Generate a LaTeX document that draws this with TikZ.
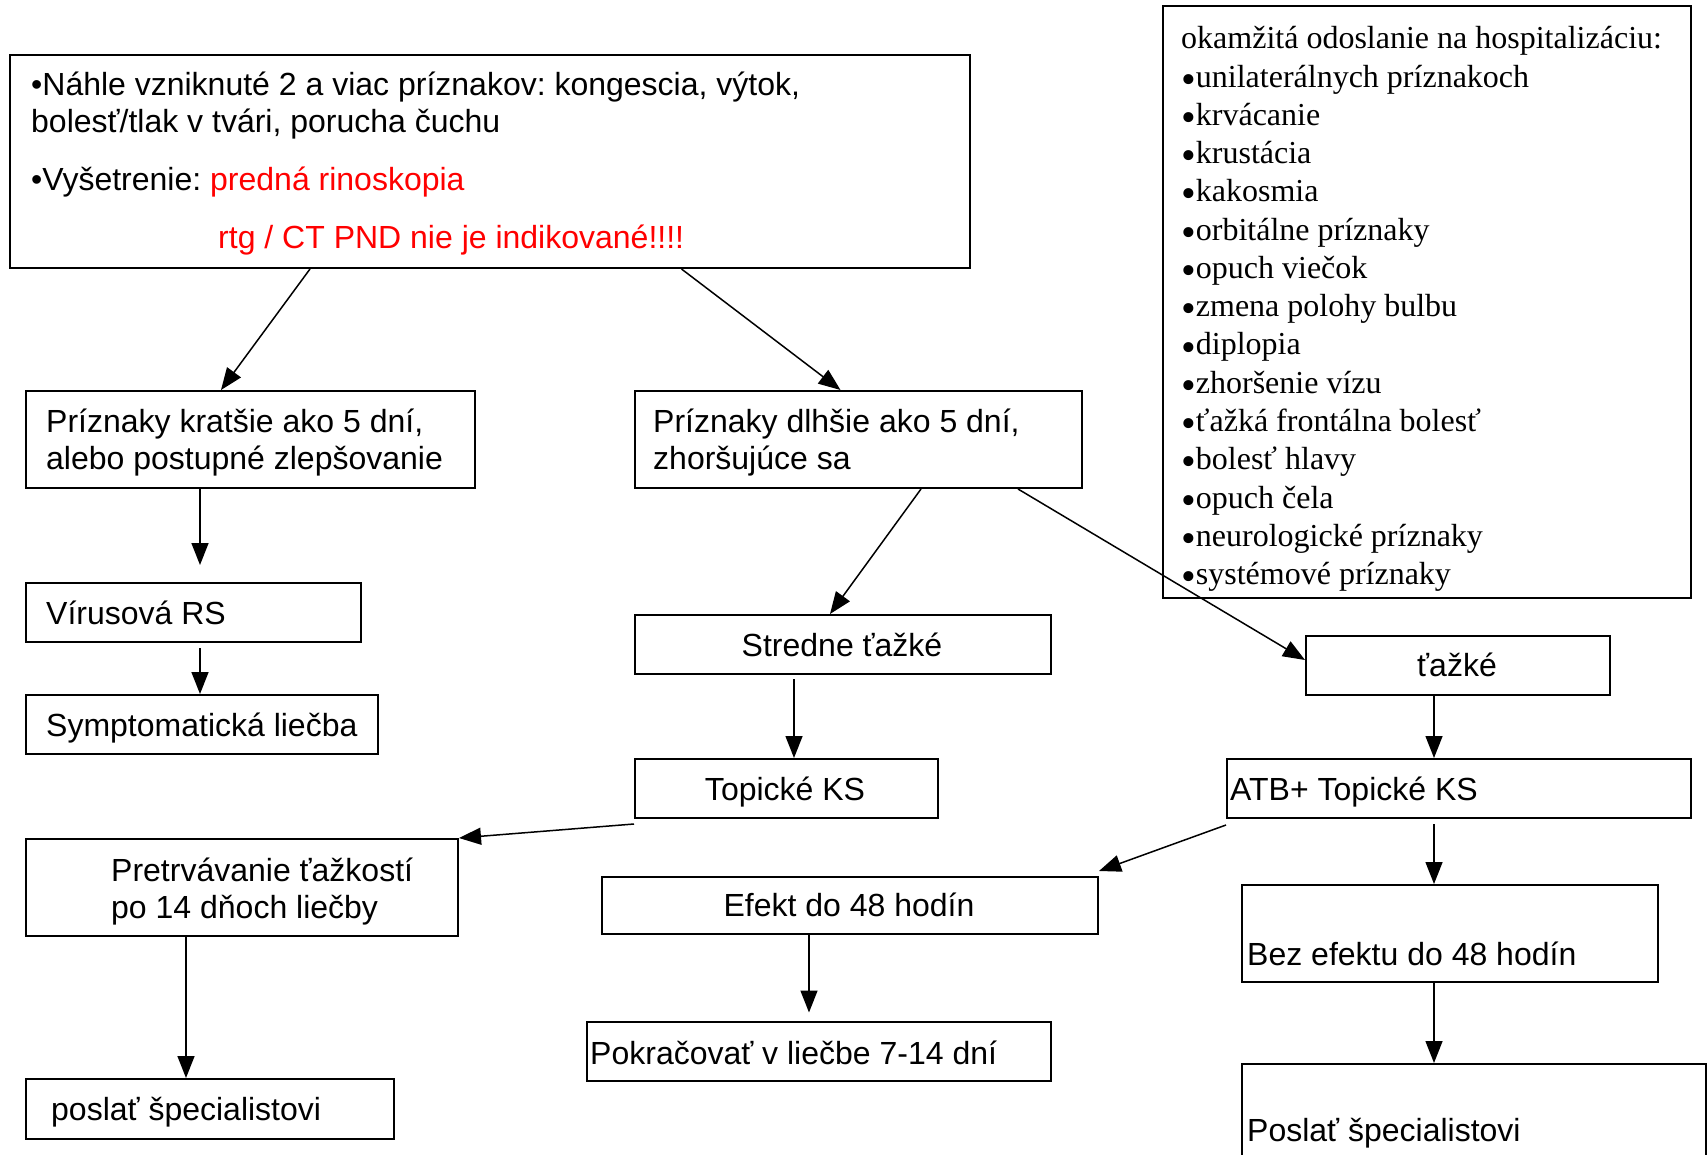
\documentclass[tikz,border=0pt]{standalone}
\usepackage{fontspec}
\setmainfont{Liberation Sans}
\newfontfamily\listfont{Liberation Serif}
\usetikzlibrary{arrows.meta}
\definecolor{alertred}{RGB}{255,0,0}
\frenchspacing
% a slightly larger bullet for the serif list
\newcommand\lbul{\smash{\raisebox{-6pt}{\fontsize{42}{38}\selectfont •}}}

\begin{document}
\begin{tikzpicture}[x=1pt,y=-1pt,
  box/.style={draw,line width=2pt,inner sep=0pt,anchor=north west},
  txt/.style={inner sep=0pt,font=\fontsize{32}{38}\selectfont},
  lst/.style={inner sep=0pt,anchor=base west,font=\listfont\fontsize{32}{38}\selectfont},
  arr/.style={line width=1.5pt,-{Triangle[length=22pt,width=17pt]}}]

\useasboundingbox[fill=white] (0,0) rectangle (1707,1155);

% boxes
\node[box,minimum width=960pt,minimum height=213pt] (top) at (9,54) {};
\node[box,minimum width=528pt,minimum height=592pt] (hosp) at (1162,5) {};
\node[box,minimum width=449pt,minimum height=97pt] (kratsie) at (25,390) {};
\node[box,minimum width=447pt,minimum height=97pt] (dlhsie) at (634,390) {};
\node[box,minimum width=335pt,minimum height=59pt] (virus) at (25,582) {};
\node[box,minimum width=352pt,minimum height=59pt] (sympt) at (25,694) {};
\node[box,minimum width=416pt,minimum height=59pt] (stredne) at (634,614) {};
\node[box,minimum width=304pt,minimum height=59pt] (tazke) at (1305,635) {};
\node[box,minimum width=303pt,minimum height=59pt] (topicke) at (634,758) {};
\node[box,minimum width=464pt,minimum height=59pt] (atb) at (1226,758) {};
\node[box,minimum width=432pt,minimum height=97pt] (pretrv) at (25,838) {};
\node[box,minimum width=496pt,minimum height=57pt] (efekt) at (601,876) {};
\node[box,minimum width=416pt,minimum height=97pt] (bez) at (1241,884) {};
\node[box,minimum width=464pt,minimum height=59pt] (pokr) at (586,1021) {};
\node[box,minimum width=368pt,minimum height=60pt] (poslat) at (25,1078) {};
\node[box,minimum width=464pt,minimum height=110pt] (poslat2) at (1241,1063) {};

% texts of the first box
\node[txt,anchor=base west] (t1) at (31,96) {•Náhle vzniknuté 2 a viac príznakov: kongescia, výtok,};
\node[txt,anchor=base west] (t2) at (31,133) {bolesť/tlak v tvári, porucha čuchu};
\node[txt,anchor=base west] (t3) at (31,191) {•Vyšetrenie: \textcolor{alertred}{predná rinoskopia}};
\node[txt,anchor=base west,text=alertred] (t4) at (218,249) {rtg / CT PND nie je indikované!!!!};

% hospitalisation criteria
\node[lst] (item0) at (1181,49) {okamžitá odoslanie na hospitalizáciu:};
\foreach \s [count=\i] in {unilaterálnych príznakoch,krvácanie,krustácia,kakosmia,
  orbitálne príznaky,opuch viečok,zmena polohy bulbu,diplopia,
  zhoršenie vízu,ťažká frontálna bolesť,bolesť hlavy,opuch čela,
  neurologické príznaky,systémové príznaky}
  \node[lst] (item\i) at (1181,49+38.25*\i) {\lbul\s};

% texts of the other boxes
\node[txt,anchor=base west] (k1) at (46,432) {Príznaky kratšie ako 5 dní,};
\node[txt,anchor=base west] (k2) at (46,469) {alebo postupné zlepšovanie};
\node[txt,anchor=base west] (d1) at (653,432) {Príznaky dlhšie ako 5 dní,};
\node[txt,anchor=base west] (d2) at (653,469) {zhoršujúce sa};
\node[txt,anchor=base west] (vt) at (46,624) {Vírusová RS};
\node[txt,anchor=base west] (st) at (46,736) {Symptomatická liečba};
\node[txt,anchor=base] (srt) at (842,656) {Stredne ťažké};
\node[txt,anchor=base] (tzt) at (1457,676) {ťažké};
\node[txt,anchor=base] (tpt) at (785,800) {Topické KS};
\node[txt,anchor=base west] (at) at (1230,800) {ATB+ Topické KS};
\node[txt,anchor=base west] (p1) at (111,881) {Pretrvávanie ťažkostí};
\node[txt,anchor=base west] (p2) at (111,918) {po 14 dňoch liečby};
\node[txt,anchor=base] (et) at (849,916) {Efekt do 48 hodín};
\node[txt,anchor=base west] (bt) at (1247,965) {Bez efektu do 48 hodín};
\node[txt,anchor=base west] (pkt) at (590,1064) {Pokračovať v liečbe 7-14 dní};
\node[txt,anchor=base west] (pst) at (51,1120) {poslať špecialistovi};
\node[txt,anchor=base west] (ps2t) at (1247,1141) {Poslať špecialistovi};

% connectors
\draw[arr] ([xshift=301pt]top.south west) -- ([xshift=196pt]kratsie.north west);
\draw[arr] ([xshift=672.5pt]top.south west) -- ([xshift=206.5pt]dlhsie.north west);
\draw[arr] ([xshift=175pt]kratsie.south west) -- ([xshift=175pt,yshift=17pt]virus.north west);
\draw[arr] ([xshift=175pt,yshift=-5pt]virus.south west) -- ([xshift=175pt]sympt.north west);
\draw[arr] ([xshift=287pt]dlhsie.south west) -- ([xshift=196pt]stredne.north west);
\draw[arr] ([xshift=384pt]dlhsie.south west) -- ([yshift=-25pt]tazke.north west);
\draw[arr] ([xshift=160pt,yshift=-4pt]stredne.south west) -- ([xshift=160pt]topicke.north west);
\draw[arr] ([xshift=129pt]tazke.south west) -- ([xshift=208pt]atb.north west);
\draw[arr] ([yshift=-5pt]topicke.south west) -- (pretrv.north east);
\draw[arr] ([yshift=-6pt]atb.south west) -- ([yshift=5pt]efekt.north east);
\draw[arr] ([xshift=208pt,yshift=-5pt]atb.south west) -- ([xshift=193pt]bez.north west);
\draw[arr] ([xshift=161pt]pretrv.south west) -- ([xshift=161pt]poslat.north west);
\draw[arr] ([xshift=208pt]efekt.south west) -- ([xshift=223pt,yshift=8.5pt]pokr.north west);
\draw[arr] ([xshift=193pt]bez.south west) -- ([xshift=193pt]poslat2.north west);
\end{tikzpicture}
\end{document}
